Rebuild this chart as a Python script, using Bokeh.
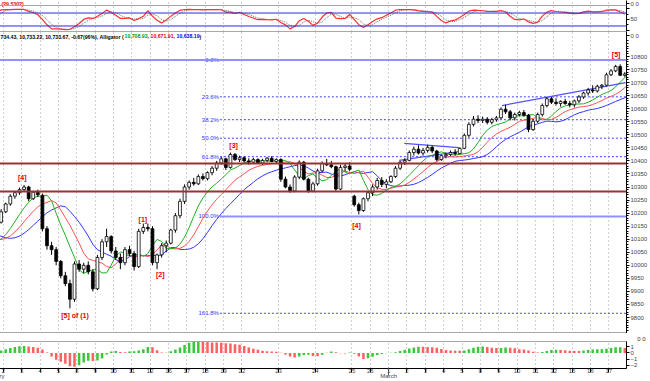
import numpy as np
from bokeh.plotting import figure
from bokeh.layouts import column
from bokeh.models import LinearAxis, FixedTicker, Span, Range1d, ColumnDataSource, Grid, Title
from bokeh.core.properties import value
from bokeh.embed import file_html
from bokeh.resources import INLINE

# ---------------- data ----------------
day_labels = ["29", "1", "2", "3", "4", "5", "8", "9", "10", "11", "12", "16", "17", "18", "19",
              "22", "23", "24", "25", "26", "1", "2", "3", "4", "5", "8", "9", "10", "11", "12",
              "15", "16", "17"]
month_labels = ["", "February", "", "", "", "", "", "", "", "", "", "", "", "", "",
                "", "", "", "", "", "March", "", "", "", "", "", "", "", "", "",
                "", "", ""]
bars_per_day = [4] * 15 + [8, 8, 8] + [4] * 15

opens = [10120, 10110, 10095, 10070, 10070, 10105, 10135, 10165,
         10205, 10235, 10265, 10278, 10290, 10300, 10255, 10280,
         10268, 10140, 10075, 10060, 10015, 9960, 9930, 9870,
         10005, 9985, 10000, 9975, 9910, 10030, 10090, 10110,
         10055, 10030, 10010, 10060, 10045, 9995, 10130, 10145,
         10140, 10010, 10040, 10075, 10085, 10135, 10190, 10245,
         10300, 10318, 10312, 10340, 10332, 10355, 10372, 10392,
         10408, 10375, 10425, 10405,
         10412, 10400, 10395, 10405, 10392, 10402, 10410, 10398,
         10405, 10330, 10300, 10285, 10338, 10395, 10330, 10285,
         10312, 10362, 10390, 10385, 10378, 10292, 10375, 10380,
         10265, 10232, 10210, 10255, 10278, 10300, 10325, 10310,
         10320, 10340, 10372, 10395, 10402, 10432, 10445, 10430,
         10440, 10452, 10438, 10405, 10420, 10425, 10432, 10428,
         10448, 10498, 10540, 10560, 10555, 10560, 10548, 10558,
         10565, 10598, 10588, 10565, 10578, 10585, 10575, 10520,
         10552, 10578, 10612, 10638, 10625, 10620, 10628, 10620,
         10615, 10630, 10645, 10660, 10672, 10668, 10686, 10690,
         10730, 10745, 10762, 10728]
highs = [10135, 10125, 10110, 10090, 10110, 10140, 10170, 10215,
         10240, 10272, 10285, 10298, 10308, 10305, 10285, 10290,
         10275, 10150, 10090, 10070, 10020, 9975, 9945, 10015,
         10020, 10010, 10015, 9985, 10040, 10100, 10140, 10115,
         10070, 10045, 10070, 10075, 10055, 10140, 10160, 10160,
         10150, 10045, 10085, 10095, 10140, 10200, 10255, 10310,
         10325, 10335, 10348, 10352, 10360, 10380, 10400, 10415,
         10412, 10432, 10430, 10420,
         10418, 10410, 10412, 10410, 10408, 10415, 10418, 10410,
         10410, 10340, 10310, 10345, 10402, 10400, 10335, 10320,
         10370, 10398, 10408, 10400, 10382, 10385, 10392, 10395,
         10270, 10240, 10260, 10285, 10310, 10335, 10338, 10330,
         10345, 10380, 10400, 10410, 10440, 10455, 10460, 10450,
         10462, 10458, 10442, 10425, 10432, 10440, 10445, 10452,
         10505, 10548, 10572, 10575, 10570, 10568, 10565, 10572,
         10605, 10615, 10595, 10585, 10592, 10595, 10580, 10560,
         10585, 10620, 10645, 10645, 10640, 10632, 10638, 10630,
         10635, 10652, 10665, 10680, 10690, 10692, 10695, 10738,
         10752, 10768, 10770, 10740]
lows = [10100, 10085, 10060, 10055, 10065, 10100, 10130, 10160,
        10200, 10228, 10255, 10270, 10282, 10245, 10250, 10262,
        10130, 10060, 10040, 10000, 9950, 9920, 9835, 9860,
        9975, 9970, 9965, 9900, 9905, 10020, 10070, 10045,
        10020, 9985, 10000, 10035, 9980, 9990, 10120, 10130,
        10000, 9985, 10030, 10050, 10080, 10125, 10180, 10235,
        10290, 10305, 10308, 10325, 10325, 10345, 10362, 10385,
        10365, 10370, 10400, 10395,
        10395, 10385, 10390, 10388, 10385, 10395, 10395, 10390,
        10320, 10295, 10278, 10280, 10330, 10325, 10278, 10280,
        10305, 10355, 10380, 10372, 10285, 10288, 10360, 10360,
        10225, 10195, 10205, 10245, 10265, 10290, 10300, 10295,
        10315, 10335, 10365, 10385, 10398, 10420, 10425, 10420,
        10432, 10430, 10398, 10400, 10410, 10418, 10420, 10425,
        10445, 10490, 10532, 10545, 10545, 10540, 10540, 10550,
        10560, 10580, 10555, 10555, 10570, 10570, 10510, 10515,
        10545, 10570, 10605, 10618, 10612, 10608, 10615, 10605,
        10605, 10622, 10638, 10650, 10660, 10662, 10675, 10685,
        10725, 10740, 10725, 10722]
closes = [10110, 10095, 10070, 10068, 10105, 10135, 10165, 10205,
          10235, 10265, 10278, 10290, 10300, 10255, 10280, 10270,
          10140, 10075, 10060, 10015, 9960, 9930, 9870, 10005,
          9985, 10000, 9975, 9910, 10030, 10090, 10110, 10055,
          10030, 10010, 10060, 10045, 9995, 10130, 10145, 10140,
          10010, 10040, 10075, 10085, 10135, 10190, 10245, 10300,
          10318, 10312, 10340, 10332, 10355, 10372, 10392, 10408,
          10375, 10425, 10405, 10412,
          10400, 10395, 10405, 10392, 10402, 10410, 10398, 10405,
          10330, 10300, 10285, 10338, 10395, 10330, 10285, 10312,
          10362, 10390, 10385, 10378, 10292, 10375, 10380, 10368,
          10232, 10210, 10255, 10278, 10300, 10325, 10310, 10320,
          10340, 10372, 10395, 10402, 10432, 10445, 10430, 10440,
          10452, 10438, 10405, 10420, 10425, 10432, 10428, 10448,
          10498, 10540, 10560, 10555, 10560, 10548, 10558, 10565,
          10598, 10588, 10565, 10578, 10585, 10575, 10520, 10552,
          10578, 10612, 10638, 10625, 10620, 10628, 10620, 10615,
          10630, 10645, 10660, 10672, 10668, 10686, 10690, 10730,
          10745, 10762, 10728, 10733]

fib_high = 10787
fib_low = 10187
fib_ratios = [0.0, 0.236, 0.382, 0.5, 0.618, 1.0, 1.618]
fib_names = ["0.0%", "23.6%", "38.2%", "50.0%", "61.8%", "100.0%", "161.8%"]
support_levels = [10390, 10283]

wave_text = ["[4]", "[5] of (1)", "[1]", "[2]", "[3]", "[4]", "[5]"]
wave_x = [12.1, 23.6, 38.4, 42.2, 58.2, 85.0, 141.6]
wave_y = [10336, 9808, 10176, 9965, 10459, 10152, 10808]

# hand-drawn trend lines (bar index, price)
trend_x0 = [116.7, 95.4, 94.3]
trend_y0 = [10612, 10467, 10402]
trend_x1 = [143.7, 107.3, 107.3]
trend_y1 = [10700, 10451, 10436]

header_parts = ["734.43, 10,733.22, 10,733.67, -0.67(96%), Alligator (", "10,708.93", ",",
                "10,671.91", ",", "10,638.19", ")"]
header_colors = ["black", "#00a000", "black", "#e00000", "black", "#0000e0", "black"]
header_px = [0, 124, 147, 150, 173, 176, 199]
osc_title = "(29.5302)"
corner_text = "0 0"

# ---------------- derived ----------------
o = np.array(opens, float); h = np.array(highs, float)
l = np.array(lows, float); c = np.array(closes, float)
n = len(c)
xc = np.arange(n) + 0.5
day_starts = np.concatenate([[0], np.cumsum(bars_per_day)[:-1]]).astype(float)

def smma(x, k):
    out = np.empty_like(x)
    out[0] = x[0]
    for i in range(1, len(x)):
        out[i] = (out[i - 1] * (k - 1) + x[i]) / k
    return out

def sma(x, k):
    out = np.empty_like(x)
    for i in range(len(x)):
        out[i] = x[max(0, i - k + 1):i + 1].mean()
    return out

med = (h + l) / 2
jaw = smma(med, 7); teeth = smma(med, 5); lips = smma(med, 3)

kn = 8
raw = np.empty(n)
for i in range(n):
    lo = l[max(0, i - kn + 1):i + 1].min(); hi = h[max(0, i - kn + 1):i + 1].max()
    raw[i] = 100 * (c[i] - lo) / (hi - lo)
stoch_k = sma(raw, 3)
stoch_d = sma(stoch_k, 3)

ao = (sma(med, 3) - sma(med, 19)) / 100.0
ao_col = ["#38c838" if i > 0 and ao[i] > ao[i - 1] else "#ff6060" for i in range(n)]

# ---------------- layout constants ----------------
X0, X1 = 3.0, 143.87
W = 670
RB = 22
xr = Range1d(X0, X1)
FONT = "Liberation Sans"
grid_ticker = FixedTicker(ticks=list(day_starts))

def make_fig(hgt, yr, top=0, bottom=0, outline="#a8a8a8"):
    p = figure(width=W, height=hgt, x_range=xr, y_range=yr, output_backend="svg",
               toolbar_location=None, x_axis_location=None, y_axis_location=None,
               min_border_left=0, min_border_right=RB, min_border_top=top,
               min_border_bottom=bottom)
    for g in p.grid:
        g.visible = False
    p.add_layout(Grid(dimension=0, ticker=grid_ticker, grid_line_color="#a0a0a0",
                      grid_line_dash="1 3", grid_line_width=1))
    p.outline_line_color = outline
    p.background_fill_color = "white"
    p.border_fill_color = "white"
    return p

def right_axis(p, ticks, minor, overrides=None):
    ax = LinearAxis(ticker=FixedTicker(ticks=ticks, minor_ticks=minor))
    ax.major_label_text_font = FONT
    ax.major_label_text_font_size = "6px"
    ax.major_label_standoff = 1
    ax.major_tick_out = 3
    ax.major_tick_in = 0
    ax.minor_tick_out = 2
    ax.minor_tick_in = 0
    ax.axis_line_color = "black"
    if overrides:
        ax.major_label_overrides = overrides
    p.add_layout(ax, "right")
    return ax

# ---- top oscillator ----
y1 = Range1d(-5.6, 138)
p1 = make_fig(31, y1, outline=None)
right_axis(p1, [0, 50, 100, 125], [25, 75], {0: "", 100: "", 125: corner_text})
p1.add_layout(Span(location=114.8, dimension="width", line_color="#a8a8a8", line_width=1))
for lev in (80, 20):
    p1.add_layout(Span(location=lev, dimension="width", line_color="#2828e8", line_width=1))
p1.line(xc, stoch_d, line_color="#707070", line_dash="1 1", line_width=1)
p1.line(xc, stoch_k, line_color="#ff3030", line_width=1.2)
p1.text(x=[X0], y=[138], text=[osc_title], x_offset=[21], y_offset=[0],
        text_font=value(FONT), text_font_style="bold",
        text_font_size=value("5.2px"), text_color="#e00000", text_baseline="top")

# ---- main price ----
y2 = Range1d(9738.7, 10895.8)
p2 = make_fig(302, y2)
right_axis(p2, list(range(9800, 10801, 50)) + [10880], list(range(9740, 10861, 10)),
           {10880: corner_text})
for lev in support_levels:
    p2.add_layout(Span(location=lev, dimension="width", line_color="#a03030", line_width=2))
fib_levels = [fib_high - r * (fib_high - fib_low) for r in fib_ratios]
FIB_X = 55.2
for r, lev in zip(fib_ratios, fib_levels):
    if r == 0.0:
        p2.add_layout(Span(location=lev, dimension="width", line_color="#9090ff", line_width=2))
    elif r == 1.0:
        p2.segment(x0=[FIB_X], y0=[lev], x1=[X1], y1=[lev], line_color="#9090ff", line_width=2)
    else:
        p2.segment(x0=[FIB_X], y0=[lev], x1=[X1], y1=[lev], line_color="#4040ff",
                   line_width=1, line_dash="2 2")
p2.text(x=[FIB_X] * len(fib_levels), y=fib_levels, text=fib_names, x_offset=-1,
        text_align="right", text_baseline="middle", text_font=value(FONT),
        text_font_size=value("6px"), text_color="#3030ff")
# alligator
p2.line(xc + 5, jaw, line_color="#3535ff", line_width=1)
p2.line(xc + 3, teeth, line_color="#ff5050", line_width=1)
p2.line(xc + 2, lips, line_color="#20b020", line_width=1)
# trend lines
p2.segment(x0=trend_x0, y0=trend_y0, x1=trend_x1, y1=trend_y1, line_color="#5050ff", line_width=1.2)
# candles
p2.segment(x0=xc, y0=l, x1=xc, y1=h, line_color="black", line_width=1)
up = c >= o
p2.vbar(x=xc[up], width=0.62, top=c[up], bottom=o[up], fill_color="white", line_color="black", line_width=0.8)
p2.vbar(x=xc[~up], width=0.62, top=o[~up], bottom=c[~up], fill_color="black", line_color="black", line_width=0.8)
# wave labels
p2.text(x=wave_x, y=wave_y, text=wave_text, text_align="center", text_baseline="middle",
        text_font=value(FONT), text_font_style="bold", text_font_size=value("7px"), text_color="#e00000")
# header
hsrc = ColumnDataSource(dict(x=[X0] * len(header_parts), y=[10895.8] * len(header_parts),
                             t=header_parts, c=header_colors, off=[v + 20 for v in header_px]))
p2.text(x="x", y="y", text="t", text_color="c", x_offset="off", y_offset=2, source=hsrc,
        text_font=value(FONT), text_font_style="bold",
        text_font_size=value("5.2px"), text_baseline="top")

# ---- bottom histogram ----
y3 = Range1d(-2.5, 1.83)
p3 = make_fig(48, y3, top=8)
p3.add_layout(Title(text=corner_text, align="right", offset=-19, standoff=0,
                    text_font_size="6px", text_font=FONT, text_font_style="normal",
                    text_color="#333333"), "above")
right_axis(p3, [-2, -1, 0, 1], [], None)
p3.vbar(x=xc, width=0.55, top=ao, bottom=0, fill_color=ao_col, line_color=None)
dax = LinearAxis(ticker=FixedTicker(ticks=list(day_starts)))
dax.major_label_overrides = {float(s): t for s, t in zip(day_starts, day_labels)}
dax.major_label_text_font = FONT
dax.major_label_text_font_size = "6px"
dax.major_label_text_align = "left"
dax.major_label_standoff = -4
dax.major_tick_out = 4
dax.major_tick_in = 0
dax.minor_tick_out = 0
dax.axis_line_color = "black"
p3.add_layout(dax, "below")
mstarts = [float(s) for s, m in zip(day_starts, month_labels) if m]
mlabels = [m for m in month_labels if m]
max_ = LinearAxis(ticker=FixedTicker(ticks=mstarts))
max_.major_label_overrides = {s: m for s, m in zip(mstarts, mlabels)}
max_.major_label_text_font = FONT
max_.major_label_text_font_size = "6px"
max_.major_label_text_align = "left"
max_.major_label_standoff = -3
max_.major_tick_out = 0
max_.major_tick_in = 8
max_.major_tick_line_color = "#555555"
max_.minor_tick_out = 0
max_.axis_line_color = None
p3.add_layout(max_, "below")

lay = column(p1, p2, p3, spacing=0, margin=(0, 0, 0, -20))
open("out.html", "w").write(file_html(lay, INLINE))
